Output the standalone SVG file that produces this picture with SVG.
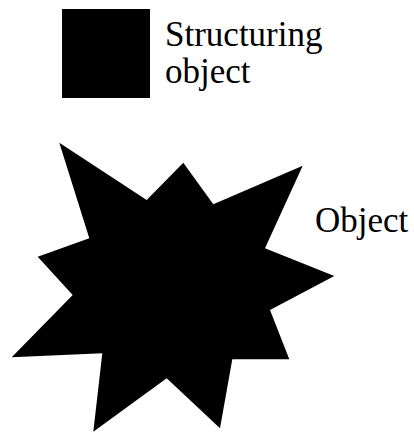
<svg xmlns="http://www.w3.org/2000/svg" width="414" height="432" viewBox="0 0 414 432">
<style>
.lbl{font-family:"Liberation Serif","Times New Roman",serif;font-size:35px;fill:#000}
</style>
<rect width="414" height="432" fill="#fff"/>
<g id="structuring-object">
<rect x="62" y="9" width="88" height="89" fill="#000"/>
<text class="lbl" x="165" y="46">Structuring</text>
<text class="lbl" x="165" y="83">object</text>
</g>
<g id="object">
<polygon fill="#000" points="59.3,142.7 146.7,200 183.3,162.7 213.3,204.3 302.7,165.7 265,248.3 334.3,276 270,310 289.3,359.3 232.3,359.3 220,428.3 166.7,378.3 93.3,431.7 102.3,353.3 11.7,357.3 72.7,295 37.7,256.7 89.3,238.3"/>
<text class="lbl" x="315" y="232">Object</text>
</g>
<g id="connectors"/>
</svg>
